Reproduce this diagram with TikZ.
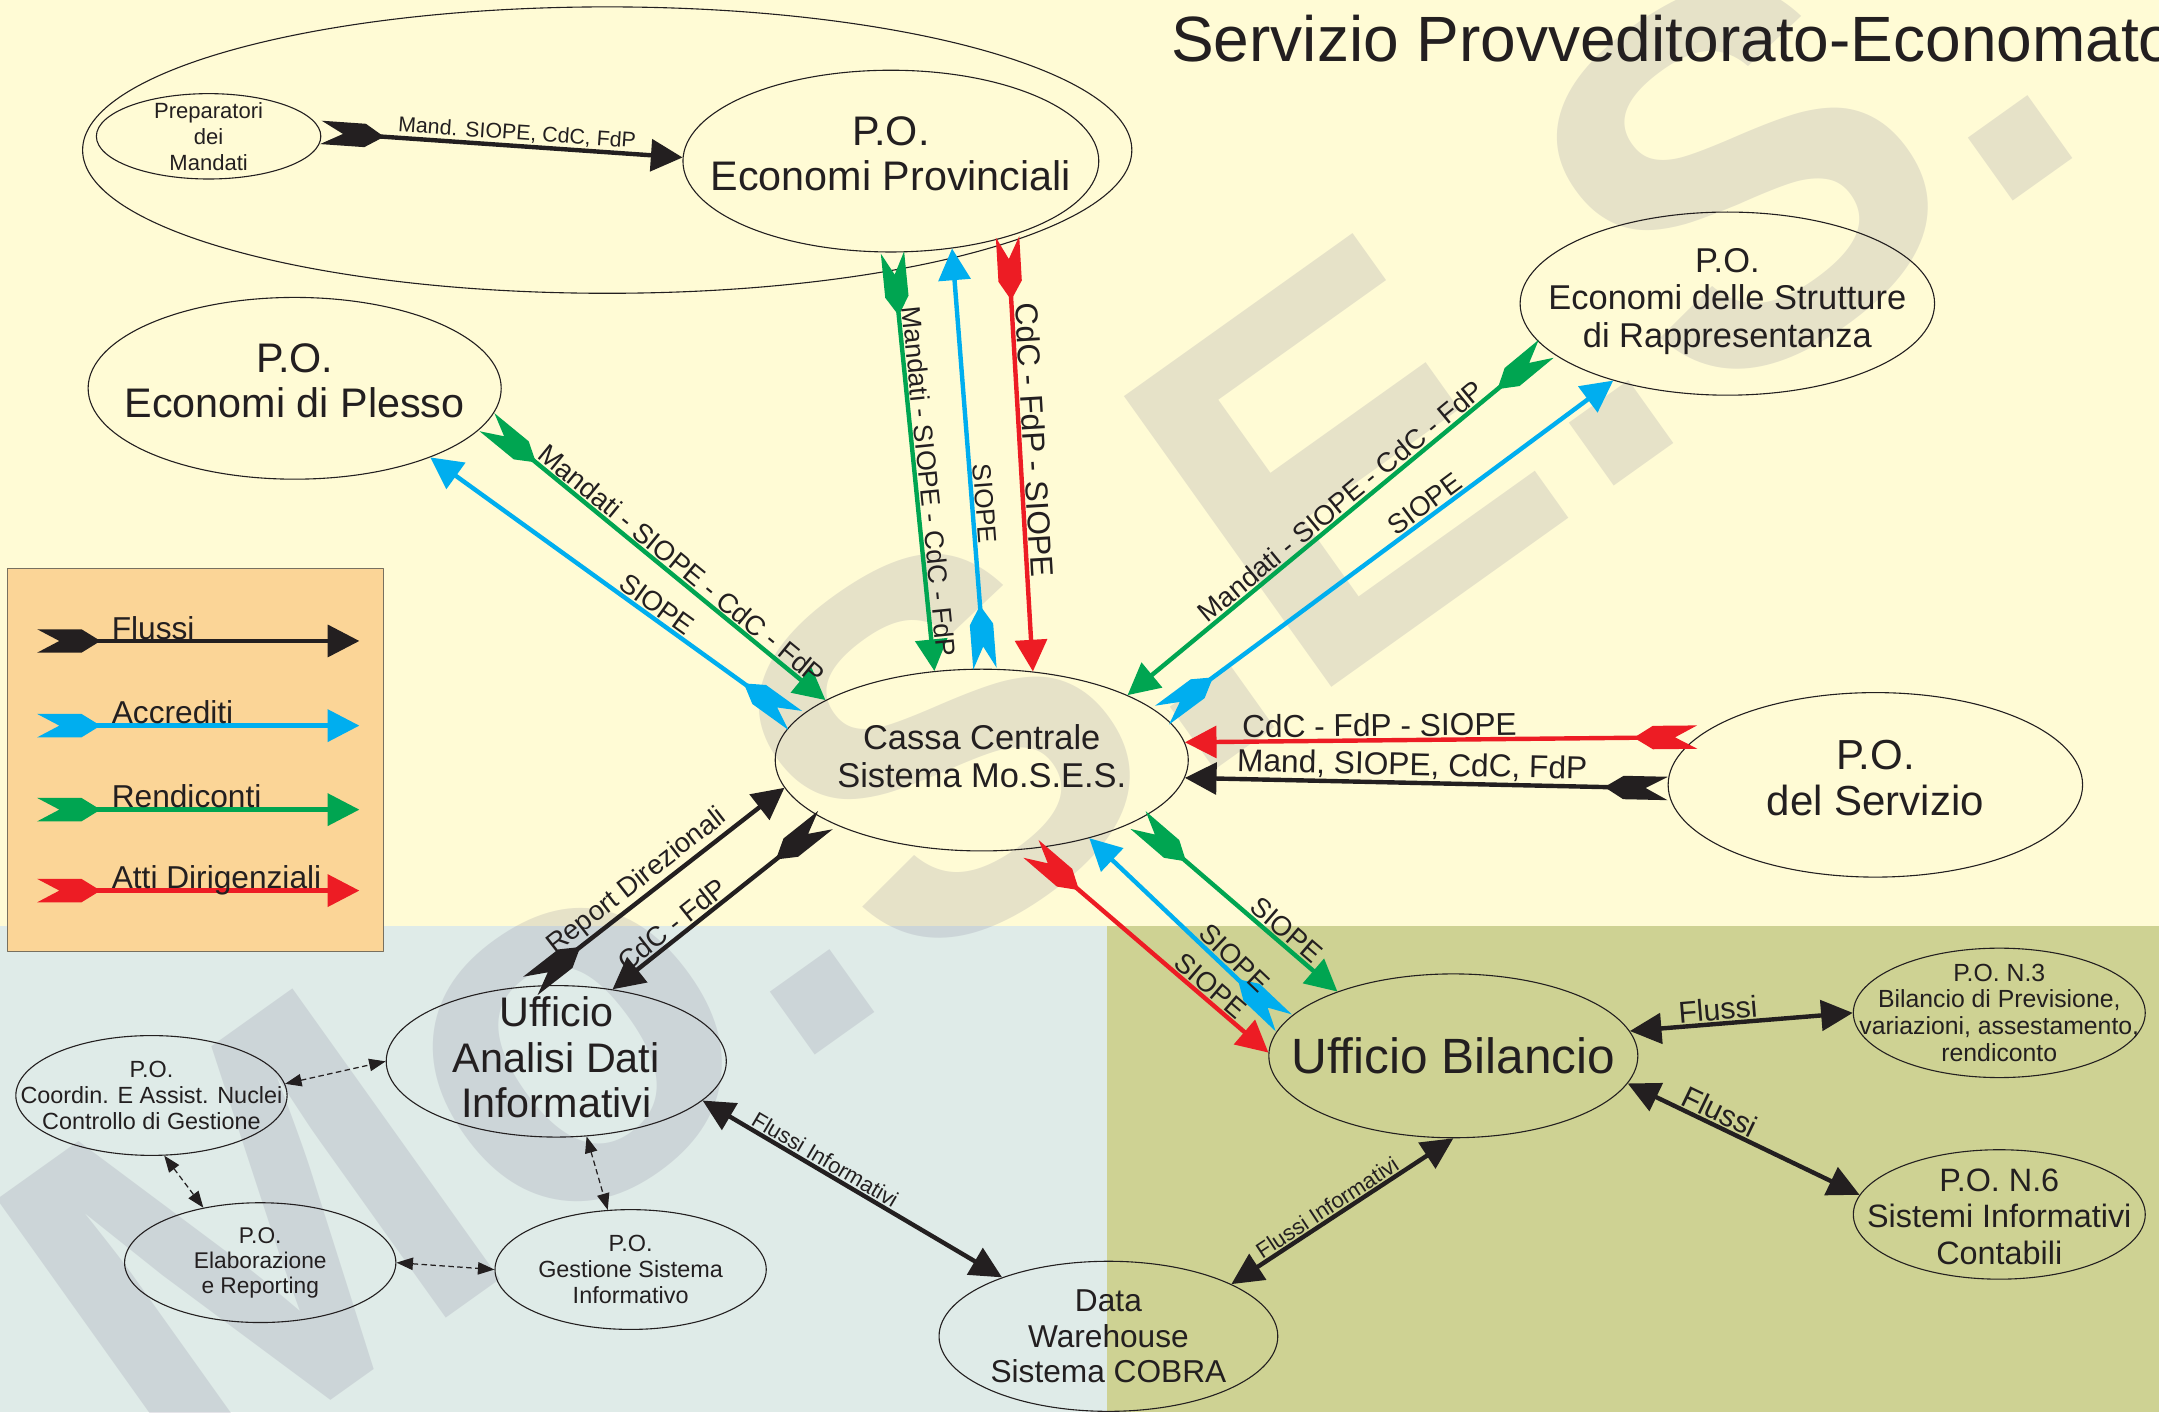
\documentclass[tikz,border=0pt]{standalone}
\usepackage{fontspec}
\setmainfont{Liberation Sans}
\usetikzlibrary{arrows.meta,shapes.geometric}

\definecolor{nero}{RGB}{35,31,32}
\definecolor{blu}{RGB}{0,174,239}
\definecolor{verde}{RGB}{0,165,81}
\definecolor{rosso}{RGB}{237,28,36}
\definecolor{giallo}{RGB}{255,251,213}
\definecolor{azzurro}{RGB}{223,235,232}
\definecolor{oliva}{RGB}{206,210,147}
\definecolor{arancio}{RGB}{251,213,151}
\definecolor{bordo}{RGB}{120,112,95}
\definecolor{filigrana}{RGB}{130,126,152}

\newcommand\fs[2]{\fontsize{#1}{#2}\selectfont}

% coda a impennaggio
\pgfdeclarearrow{
  name = Fletch,
  parameters = {\the\pgfarrowlength,\the\pgfarrowwidth},
  setup code = {
    \pgfarrowssettipend{0pt}
    \pgfarrowssetbackend{-\pgfarrowlength}
    \pgfarrowssetlineend{-.8\pgfarrowlength}
    \pgfarrowsupperhullpoint{0pt}{.5\pgfarrowwidth}
    \pgfarrowsupperhullpoint{-\pgfarrowlength}{0pt}
    \pgfarrowssavethe\pgfarrowlength
    \pgfarrowssavethe\pgfarrowwidth
  },
  drawing code = {
    \pgfpathmoveto{\pgfqpoint{0pt}{.5\pgfarrowwidth}}
    \pgfpathlineto{\pgfqpoint{-.7\pgfarrowlength}{.5\pgfarrowwidth}}
    \pgfpathlineto{\pgfqpoint{-\pgfarrowlength}{0pt}}
    \pgfpathlineto{\pgfqpoint{-.7\pgfarrowlength}{-.5\pgfarrowwidth}}
    \pgfpathlineto{\pgfqpoint{0pt}{-.5\pgfarrowwidth}}
    \pgfpathlineto{\pgfqpoint{-.35\pgfarrowlength}{0pt}}
    \pgfpathclose
    \pgfusepathqfill
  },
  defaults = {length=46pt, width=17pt}
}

\begin{document}
\begin{tikzpicture}[x=1pt, y=-1pt, line join=round, text=nero,
  po/.style 2 args={draw=nero, line width=.8pt, ellipse, inner sep=0pt, minimum width=#1, minimum height=#2},
  flusso/.style={line width=3.2pt, {Fletch[length=46pt,width=17pt]}-{Triangle[length=23pt,width=23pt]}},
  doppia/.style={nero, line width=3.2pt, {Triangle[length=23pt,width=22pt]}-{Triangle[length=23pt,width=22pt]}},
  tratto/.style={nero, line width=.9pt, dash pattern=on 4pt off 2.5pt, {Triangle[length=12pt,width=9pt]}-{Triangle[length=12pt,width=9pt]}},
  lbl/.style={sloped, above, inner sep=1pt, text=nero}]
\useasboundingbox (0,0) rectangle (1568,1025.5);
% sfondi
\fill[giallo] (0,0) rectangle (1568,672.5);
\fill[azzurro] (0,672.5) rectangle (804,1025.5);
\fill[oliva] (804,672.5) rectangle (1568,1025.5);
% filigrana
\node[rotate=35.5, inner sep=0pt, text=filigrana, text opacity=.2, font=\bfseries\fs{377}{377}] (wm) at (752,493) {Mo.S.E.S.};

% uffici
\node[po={762}{208}] (gruppo) at (441,109) {};
\node[po={163}{62}, label={[align=center,font=\fs{16}{19}]center:Preparatori\\dei\\Mandati}] (prep) at (151.5,99) {};
\node[po={302}{132}, label={[align=center,font=\fs{30}{33},yshift=5.5pt]center:P.O.\\Economi Provinciali}] (prov) at (647,117) {};
\node[po={300}{132}, label={[align=center,font=\fs{30}{33},yshift=5.5pt]center:P.O.\\Economi di Plesso}] (plesso) at (214,282) {};
\node[po={301}{133}, label={[align=center,font=\fs{25}{27.3},yshift=1.7pt]center:P.O.\\Economi delle Strutture\\di Rappresentanza}] (strut) at (1254.5,220.5) {};
\node[po={300}{132}, label={[align=center,font=\fs{25}{27.5},yshift=2.5pt]center:Cassa Centrale\\Sistema Mo.S.E.S.}] (cassa) at (713,552) {};
\node[po={301}{134}, label={[align=center,font=\fs{30.5}{34},yshift=5pt]center:P.O.\\del Servizio}] (serv) at (1362,570) {};
\node[po={247}{110}, label={[align=center,font=\fs{30}{33},yshift=2.8pt]center:Ufficio\\Analisi Dati\\Informativi}] (uad) at (404,770.8) {};
\node[po={268}{119}, label={[font=\fs{36}{40}]center:Ufficio Bilancio}] (bil) at (1055.5,766.8) {};
\node[po={212}{94}, label={[align=center,font=\fs{18}{19.5}]center:{P.O. N.3\\Bilancio di Previsione,\\variazioni, assestamento,\\rendiconto}}] (n3) at (1452,735.6) {};
\node[po={212}{94}, label={[align=center,font=\fs{23.5}{26.6},yshift=-1.5pt]center:P.O. N.6\\Sistemi Informativi\\Contabili}] (n6) at (1452,882) {};
\node[po={246}{109}, label={[align=center,font=\fs{23}{26}]center:Data\\Warehouse\\Sistema COBRA}] (dw) at (805,970.5) {};
\node[po={197}{87}, label={[align=center,font=\fs{17}{19}]center:P.O.\\Coordin. E Assist. Nuclei\\Controllo di Gestione}] (coord) at (110,795.6) {};
\node[po={197}{87}, label={[align=center,font=\fs{16.5}{18.3}]center:P.O.\\Elaborazione\\e Reporting}] (elab) at (189,917) {};
\node[po={197}{87}, label={[align=center,font=\fs{17}{19}]center:P.O.\\Gestione Sistema\\Informativo}] (gest) at (458,922) {};

% flussi verso la Cassa Centrale
\draw[flusso, nero] (prep.2) -- node[lbl, font=\fs{15.5}{18}, pos=.54] {Mand. SIOPE, CdC, FdP} (prov.179);
\draw[flusso, verde] (prov.-89) -- node[lbl, font=\fs{19.5}{22}, pos=.55] {Mandati - SIOPE - CdC - FdP} (cassa.118);
\draw[flusso, blu] (cassa.88) -- node[lbl, font=\fs{19}{22}, pos=.39] {SIOPE} (prov.-55);
\draw[flusso, rosso] (prov.-33) -- node[lbl, font=\fs{23}{26}, pos=.47] {CdC - FdP - SIOPE} (cassa.60);
\draw[flusso, verde] (plesso.-10) -- node[lbl, font=\fs{20}{22}, pos=.55] {Mandati - SIOPE - CdC - FdP} (cassa.159);
\draw[flusso, blu] (cassa.168) -- node[lbl, font=\fs{20}{22}, pos=.4] {SIOPE} (plesso.-27);
\draw[flusso, verde] (strut.194) -- node[lbl, font=\fs{20}{22}, pos=.47] {Mandati - SIOPE - CdC - FdP} (cassa.24);
\draw[flusso, blu] (cassa.14) -- node[lbl, font=\fs{20}{22}, pos=.6] {SIOPE} (strut.214);
\draw[flusso, rosso] (serv.165) -- node[lbl, font=\fs{23}{26}, pos=.62] {CdC - FdP - SIOPE} (cassa.5);
\draw[flusso, nero] (serv.181) -- node[lbl, font=\fs{23}{26}, pos=.53] {Mand, SIOPE, CdC, FdP} (cassa.-5);
\draw[flusso, verde] (cassa.-21) -- node[lbl, font=\fs{20}{22}, pos=.7] {SIOPE} (bil.151);
\draw[flusso, blu] (bil.169) -- node[lbl, font=\fs{20}{22}, pos=.3] {SIOPE} (cassa.-36);
\draw[flusso, rosso] (cassa.-61) -- node[lbl, font=\fs{20}{22}, pos=.72] {SIOPE} (bil.179);
\draw[flusso, nero] (uad.109) -- node[lbl, font=\fs{20}{22}, pos=.46] {Report Direzionali} (cassa.188);
\draw[flusso, nero] (cassa.201) -- node[lbl, font=\fs{20}{22}, pos=.68] {CdC - FdP} (uad.52);

% flussi informativi
\draw[doppia] (bil.8) -- node[lbl, font=\fs{22}{24}, pos=.4] {Flussi} (n3.180);
\draw[doppia] (bil.-9) -- node[lbl, font=\fs{22}{24}, pos=.37] {Flussi} (n6.172);
\draw[doppia] (bil.-90) -- node[lbl, font=\fs{16}{18}, pos=.54] {Flussi Informativi} (dw.23);
\draw[doppia] (uad.-15) -- node[lbl, font=\fs{16}{18}, pos=.39] {Flussi Informativi} (dw.151);
\draw[tratto] (coord.5) -- (uad.180);
\draw[tratto] (coord.-78) -- (elab.136);
\draw[tratto] (elab.0) -- (gest.180);
\draw[tratto] (uad.-68) -- (gest.111);

% legenda
\node[draw=bordo, fill=arancio, line width=.8pt, inner sep=0pt, anchor=north west, minimum width=273, minimum height=278] (legenda) at (5.3,412.7) {};
\foreach \col/\testo/\yy [count=\i] in {nero/Flussi/465.5, blu/Accrediti/527, verde/Rendiconti/588, rosso/Atti Dirigenziali/646.8}{
  \coordinate (la\i) at (27,\yy);
  \coordinate (lb\i) at (261,\yy);
  \draw[flusso, color=\col] (la\i) -- (lb\i);
  \node[anchor=base west, inner sep=0pt, font=\fs{23}{26}] (lt\i) at (81,\yy-1.2) {\testo};
}

\node[anchor=base west, inner sep=0pt, font=\fs{46.5}{50}] (titolo) at (850.4,44.8) {Servizio Provveditorato-Economato};
\end{tikzpicture}
\end{document}
